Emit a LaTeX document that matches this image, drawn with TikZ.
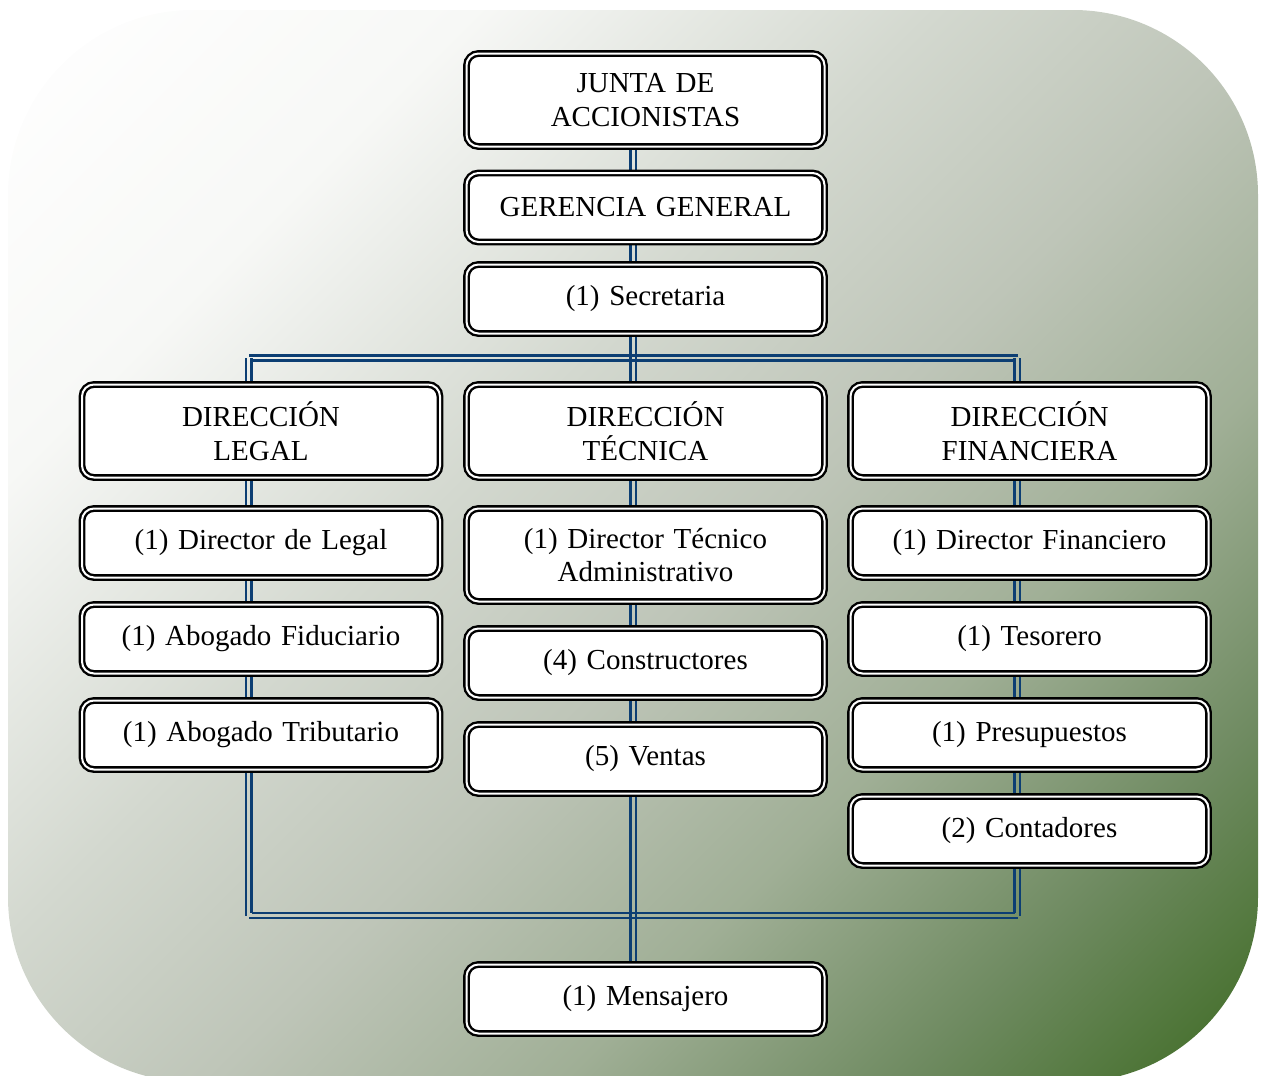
\documentclass[tikz,border=0pt]{standalone}
\usepackage{fontspec}
\setmainfont{Liberation Serif}
\usetikzlibrary{calc}
\definecolor{cnblue}{HTML}{0C3E73}
\definecolor{gA}{HTML}{FFFFFF}
\definecolor{gB}{HTML}{F7F8F6}
\definecolor{gC}{HTML}{D3D8CF}
\definecolor{gD}{HTML}{BEC5B8}
\definecolor{gE}{HTML}{A0AF96}
\definecolor{gF}{HTML}{6E8A60}
\definecolor{gG}{HTML}{3D6A22}
\pgfdeclarehorizontalshading{bgshade}{100bp}{color(0bp)=(gA); color(14.6bp)=(gA); color(28.8bp)=(gB); color(42.9bp)=(gC); color(53.5bp)=(gD); color(64.2bp)=(gE); color(74.8bp)=(gF); color(85.4bp)=(gG); color(100bp)=(gG)}
\pgfdeclarelayer{bglayer}
\pgfdeclarelayer{cnlayer}
\pgfsetlayers{bglayer,cnlayer,main}
\newcommand{\boxfont}{\fontsize{29pt}{33.5pt}\selectfont}
\tikzset{
  orgbox/.style={draw=black, line width=2.4pt, double=white, double distance=2pt,
    fill=white, rounded corners=12pt, minimum width=358pt, minimum height=69pt,
    text width=345pt, align=center, inner sep=0pt, font=\boxfont},
  tallbox/.style={orgbox, minimum height=93pt},
  cn/.style={draw=cnblue, line width=2.3pt}
}
\begin{document}
\begin{tikzpicture}[x=1pt,y=-1pt]
\useasboundingbox (0,0) rectangle (1264,1076);
% nodes
\node[tallbox] (junta) at (645.5,100) {JUNTA DE\\ACCIONISTAS};
\node[orgbox] (ger) at (645.5,207.5) {GERENCIA GENERAL};
\node[orgbox] (sec) at (645.5,299) {(1) Secretaria};
\node[tallbox] (dleg) at (261,431) {DIRECCIÓN\\LEGAL};
\node[tallbox] (dtec) at (645.5,431) {DIRECCIÓN\\TÉCNICA};
\node[tallbox] (dfin) at (1029.5,431) {DIRECCIÓN\\FINANCIERA};
\node[orgbox] (l1) at (261,543) {(1) Director de Legal};
\node[orgbox] (l2) at (261,639) {(1) Abogado Fiduciario};
\node[orgbox] (l3) at (261,735) {(1) Abogado Tributario};
\node[tallbox] (t1) at (645.5,555) {(1) Director Técnico\\Administrativo};
\node[orgbox] (t2) at (645.5,663) {(4) Constructores};
\node[orgbox] (t3) at (645.5,759) {(5) Ventas};
\node[orgbox] (f1) at (1029.5,543) {(1) Director Financiero};
\node[orgbox] (f2) at (1029.5,639) {(1) Tesorero};
\node[orgbox] (f3) at (1029.5,735) {(1) Presupuestos};
\node[orgbox] (f4) at (1029.5,831) {(2) Contadores};
\node[orgbox] (mens) at (645.5,999) {(1) Mensajero};
\coordinate (tbus) at (645.5,358);
\coordinate (bbus) at (645.5,915.5);
% background
\begin{pgfonlayer}{bglayer}
\shade[shading=bgshade, shading angle=-45, rounded corners=185pt] (8,10) rectangle (1258,1082);
\end{pgfonlayer}
% connectors
\begin{pgfonlayer}{cnlayer}
\foreach \a/\b in {junta/ger, ger/sec, sec/dtec, dtec/t1, t1/t2, t2/t3, t3/mens,
                   dleg/l1, l1/l2, l2/l3, dfin/f1, f1/f2, f2/f3, f3/f4}{
  \draw[cn] ($(\a.center)+(-15,0)$) -- ($(\b.center)+(-15,0)$);
  \draw[cn] ($(\a.center)+(-9.5,0)$) -- ($(\b.center)+(-9.5,0)$);
}
% top bus
\draw[cn] ($(dleg.center |- tbus)+(-12,-2.5)$) -- ($(dfin.center |- tbus)+(-12,-2.5)$);
\draw[cn] ($(dleg.center |- tbus)+(-9.5,2.5)$) -- ($(dfin.center |- tbus)+(-15,2.5)$);
\draw[cn] ($(dleg.center |- tbus)+(-15,0)$) -- ($(dleg.center)+(-15,0)$);
\draw[cn] ($(dleg.center |- tbus)+(-9.5,0)$) -- ($(dleg.center)+(-9.5,0)$);
\draw[cn] ($(dfin.center |- tbus)+(-15,0)$) -- ($(dfin.center)+(-15,0)$);
\draw[cn] ($(dfin.center |- tbus)+(-9.5,0)$) -- ($(dfin.center)+(-9.5,0)$);
% bottom bus
\draw[cn] ($(l3.center |- bbus)+(-9.5,-2.5)$) -- ($(f4.center |- bbus)+(-15,-2.5)$);
\draw[cn] ($(l3.center |- bbus)+(-12,2.5)$) -- ($(f4.center |- bbus)+(-12,2.5)$);
\draw[cn] ($(l3.center)+(-15,0)$) -- ($(l3.center |- bbus)+(-15,0)$);
\draw[cn] ($(l3.center)+(-9.5,0)$) -- ($(l3.center |- bbus)+(-9.5,-2.5)$);
\draw[cn] ($(f4.center)+(-15,0)$) -- ($(f4.center |- bbus)+(-15,-2.5)$);
\draw[cn] ($(f4.center)+(-9.5,0)$) -- ($(f4.center |- bbus)+(-9.5,0)$);
\end{pgfonlayer}
\end{tikzpicture}
\end{document}
